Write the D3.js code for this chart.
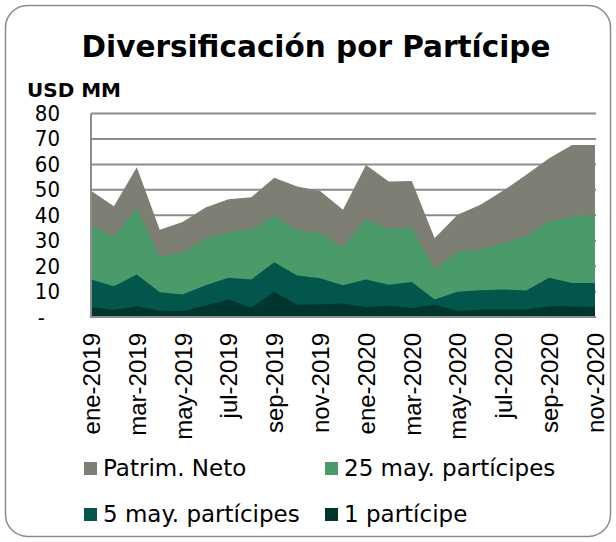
<!DOCTYPE html>
<html>
<head>
<meta charset="utf-8">
<script src="https://cdn.jsdelivr.net/npm/d3@7"></script>
<style>
  body { margin: 0; background: #fff; }
  svg { display: block; }
</style>
</head>
<body>
<svg id="chart"></svg>
<script>
// monthly points, ene-2019 .. nov-2020
const months = ['ene-2019', 'feb-2019', 'mar-2019', 'abr-2019', 'may-2019', 'jun-2019',
  'jul-2019', 'ago-2019', 'sep-2019', 'oct-2019', 'nov-2019', 'dic-2019',
  'ene-2020', 'feb-2020', 'mar-2020', 'abr-2020', 'may-2020', 'jun-2020',
  'jul-2020', 'ago-2020', 'sep-2020', 'oct-2020', 'nov-2020'];

// USD MM
const patrimNeto = [49.6, 43.5, 58.9, 34.3, 37.3, 43.0, 46.3, 47.1, 54.7, 51.3, 49.5, 42.2,
  59.8, 53.3, 53.5, 31.0, 40.2, 44.1, 49.7, 55.9, 62.4, 67.6, 67.6];
const may25 = [36.3, 31.4, 42.8, 23.9, 25.2, 31.0, 33.3, 34.3, 39.8, 34.0, 33.0, 27.5,
  38.5, 34.7, 35.2, 18.9, 25.6, 26.5, 29.1, 31.7, 37.6, 39.3, 40.2];
const may5 = [14.7, 12.1, 16.7, 9.7, 8.8, 12.5, 15.4, 14.7, 21.5, 16.3, 15.2, 12.5,
  14.7, 12.7, 13.8, 6.9, 9.9, 10.5, 10.8, 10.4, 15.4, 13.4, 13.4];
const uno = [3.9, 2.8, 4.2, 2.5, 2.4, 4.5, 6.9, 3.6, 9.9, 4.8, 5.0, 5.3,
  3.9, 4.4, 3.5, 4.8, 2.4, 2.9, 2.9, 2.9, 4.2, 4.1, 3.9];

const seriesNames = ['Patrim. Neto', '25 may. partícipes', '5 may. partícipes', '1 partícipe'];
const seriesColors = ['#7e7f74', '#4b9a69', '#03564b', '#01362e'];
const yTicks = [0, 10, 20, 30, 40, 50, 60, 70, 80];

class DiversificacionChart {
  constructor() {
    this.width = 616;
    this.height = 542;
    this.draw();
  }

  draw() {
    const svg = d3.select('#chart')
      .attr('width', this.width)
      .attr('height', this.height);

    const sans = '"DejaVu Sans", Verdana, sans-serif';
    const condensed = '"DejaVu Sans Condensed", "DejaVu Sans", sans-serif';

    // rounded frame
    svg.append('rect')
      .attr('x', 5.5).attr('y', 5.5)
      .attr('width', 605).attr('height', 531)
      .attr('rx', 22)
      .attr('fill', '#fff')
      .attr('stroke', '#8a8a8a')
      .attr('stroke-width', 1.5);

    svg.append('text')
      .attr('x', 316).attr('y', 57)
      .attr('text-anchor', 'middle')
      .style('font', `bold 29.5px ${sans}`)
      .text('Diversificación por Partícipe');

    svg.append('text')
      .attr('x', 27).attr('y', 97)
      .style('font', `bold 20px ${sans}`)
      .text('USD MM');

    const x = d3.scalePoint()
      .domain(months)
      .range([91, 595]);
    const y = d3.scaleLinear()
      .domain([0, 80])
      .range([317, 113.5]);

    // grid
    svg.append('g')
      .selectAll('line')
      .data(yTicks.filter(d => d > 0))
      .enter()
      .append('line')
      .attr('x1', 91).attr('x2', 596)
      .attr('y1', d => y(d)).attr('y2', d => y(d))
      .attr('stroke', '#8c8c8c')
      .attr('stroke-width', 2);

    // overlapping areas, biggest first
    const series = [patrimNeto, may25, may5, uno];
    const area = d3.area()
      .x((d, i) => x(months[i]))
      .y0(y(0))
      .y1(d => y(d));

    svg.append('g')
      .selectAll('path')
      .data(series)
      .enter()
      .append('path')
      .attr('d', area)
      .attr('fill', (d, i) => seriesColors[i]);

    // axis lines
    svg.append('line')
      .attr('x1', 91).attr('x2', 91)
      .attr('y1', y(80)).attr('y2', y(0))
      .attr('stroke', '#8c8c8c').attr('stroke-width', 2);
    svg.append('line')
      .attr('x1', 90).attr('x2', 596)
      .attr('y1', y(0)).attr('y2', y(0))
      .attr('stroke', '#8c8c8c').attr('stroke-width', 2);

    // y axis labels
    const yAxis = d3.axisLeft(y)
      .tickValues(yTicks)
      .tickSize(0)
      .tickPadding(31)
      .tickFormat(d => d === 0 ? '-' : d);
    const gy = svg.append('g')
      .attr('transform', 'translate(91,0)')
      .call(yAxis);
    gy.select('.domain').remove();
    gy.selectAll('text')
      .style('font', `22px ${condensed}`)
      .attr('fill', '#000')
      .filter(d => d === 0)
      .attr('dx', -15);

    // x axis labels, every other month
    const xAxis = d3.axisBottom(x)
      .tickValues(months.filter((m, i) => i % 2 === 0))
      .tickSize(0);
    const gx = svg.append('g')
      .attr('transform', `translate(0,${y(0)})`)
      .call(xAxis);
    gx.select('.domain').remove();
    gx.selectAll('text')
      .style('font', '24px "Liberation Sans", Arial, sans-serif')
      .attr('fill', '#000')
      .attr('text-anchor', 'end')
      .attr('transform', 'rotate(-90)')
      .attr('x', -16)
      .attr('y', 0)
      .attr('dy', '0.35em');

    // legend
    const legendPos = [[84, 476], [325, 476], [84, 522], [325, 522]];
    const legend = svg.append('g')
      .selectAll('g')
      .data(seriesNames)
      .enter()
      .append('g')
      .attr('transform', (d, i) => `translate(${legendPos[i][0]},${legendPos[i][1]})`);

    legend.append('rect')
      .attr('x', 0).attr('y', -14)
      .attr('width', 13).attr('height', 13)
      .attr('fill', (d, i) => seriesColors[i]);

    legend.append('text')
      .attr('x', 19).attr('y', 0)
      .style('font', `23px ${sans}`)
      .text(d => d);
  }
}

new DiversificacionChart();
</script>
</body>
</html>
